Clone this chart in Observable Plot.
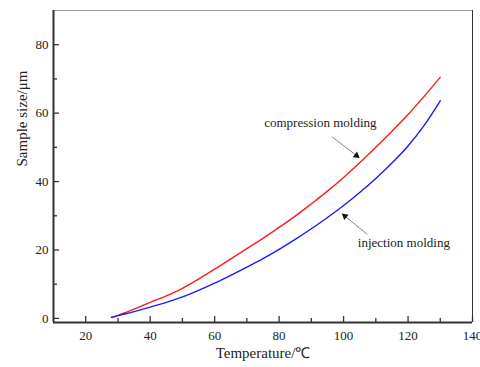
<!DOCTYPE html>
<html>
<head>
<meta charset="utf-8">
<script src="https://cdn.jsdelivr.net/npm/d3@7"></script>
<script src="https://cdn.jsdelivr.net/npm/@observablehq/plot@0.6"></script>
<style>
  html, body { margin: 0; padding: 0; background: #fff; }
</style>
</head>
<body>
<div id="chart"></div>
<script>
// Temperature (°C)
const temps = [28, 30, 35, 40, 45, 50, 55, 60, 65, 70, 75, 80, 85, 90, 95, 100, 105, 110, 115, 120, 125, 130];
// Sample size (µm)
const compression = [0.3, 0.9, 2.7, 4.7, 6.6, 8.8, 11.5, 14.4, 17.4, 20.4, 23.4, 26.6, 29.9, 33.5, 37.2, 41.2, 45.5, 50.0, 54.7, 59.6, 64.9, 70.5];
const injection   = [0.3, 0.8, 2.0, 3.3, 4.7, 6.3, 8.2, 10.3, 12.6, 15.0, 17.5, 20.2, 23.1, 26.2, 29.5, 33.0, 36.8, 40.9, 45.4, 50.4, 56.4, 63.6];

const xTicks = [20, 40, 60, 80, 100, 120, 140];
const xMinor = [30, 50, 70, 90, 110, 130];
const yTicks = [0, 20, 40, 60, 80];
const yMinor = [10, 30, 50, 70];
const xDomain = [10, 140];
const yDomain = [-1.2, 90];

const xTitle = "Temperature/℃";
const yTitle = "Sample size/μm";

// annotations (data coordinates)
const labels = [
  {text: "compression molding", x: 92.8, y: 57.1},
  {text: "injection molding", x: 118.7, y: 22.0}
];
const arrows = [
  {x1: 96.4, y1: 53.1, x2: 104.0, y2: 47.6, rot: 127},
  {x1: 107.3, y1: 24.6, x2: 100.4, y2: 29.9, rot: -51}
];

const compData = temps.map((t, i) => ({t, v: compression[i]}));
const injData = temps.map((t, i) => ({t, v: injection[i]}));

const font = "'Liberation Serif', 'Times New Roman', serif";

const chart = Plot.plot({
  width: 480,
  height: 367,
  marginLeft: 53,
  marginTop: 10,
  marginRight: 8,
  marginBottom: 45,
  style: {fontFamily: font, fontSize: "13px", color: "#222", background: "#fff"},
  x: {domain: xDomain},
  y: {domain: yDomain},
  marks: [
    // borders
    Plot.ruleY([yDomain[1]], {stroke: "#999", strokeWidth: 1}),
    Plot.ruleX([xDomain[1]], {stroke: "#333", strokeWidth: 1}),
    // axes ticks (inward)
    Plot.axisX(xTicks, {tickSize: 6, dy: -6, text: null, label: null, stroke: "#333", strokeWidth: 1.3}),
    Plot.axisX(xMinor, {tickSize: 4, dy: -4, text: null, label: null, stroke: "#333", strokeWidth: 1.3}),
    Plot.axisX(xTicks, {tickSize: 0, tickPadding: 8, label: null, fontSize: 13, fill: "#222"}),
    Plot.axisY(yTicks, {tickSize: 6, dx: 6, text: null, label: null, stroke: "#333", strokeWidth: 1.3}),
    Plot.axisY(yMinor, {tickSize: 4, dx: 4, text: null, label: null, stroke: "#333", strokeWidth: 1.3}),
    Plot.axisY(yTicks, {tickSize: 0, tickPadding: 5, label: null, fontSize: 13, fill: "#222"}),
    Plot.ruleY([yDomain[0]], {stroke: "#333", strokeWidth: 2}),
    Plot.ruleX([xDomain[0]], {stroke: "#333", strokeWidth: 2}),
    // titles
    Plot.text([xTitle], {frameAnchor: "bottom", dy: 35, fontSize: 15, fill: "#222"}),
    Plot.text([yTitle], {frameAnchor: "left", dx: -31, rotate: -90, fontSize: 15, fill: "#222"}),
    // curves
    Plot.line(compData, {x: "t", y: "v", stroke: "#ff1a1a", strokeWidth: 1.4, curve: "monotone-x"}),
    Plot.line(injData, {x: "t", y: "v", stroke: "#1a1aff", strokeWidth: 1.4, curve: "monotone-x"}),
    // annotations
    Plot.arrow(arrows, {x1: "x1", y1: "y1", x2: "x2", y2: "y2", stroke: "#777", strokeWidth: 0.9, headLength: 0}),
    Plot.dot(arrows, {x: "x2", y: "y2", symbol: "triangle", r: 2.6, fill: "#111", stroke: "none", rotate: "rot"}),
    Plot.text(labels, {x: "x", y: "y", text: "text", fontSize: 13, fill: "#222"})
  ]
});
document.getElementById("chart").appendChild(chart);
</script>
</body>
</html>
